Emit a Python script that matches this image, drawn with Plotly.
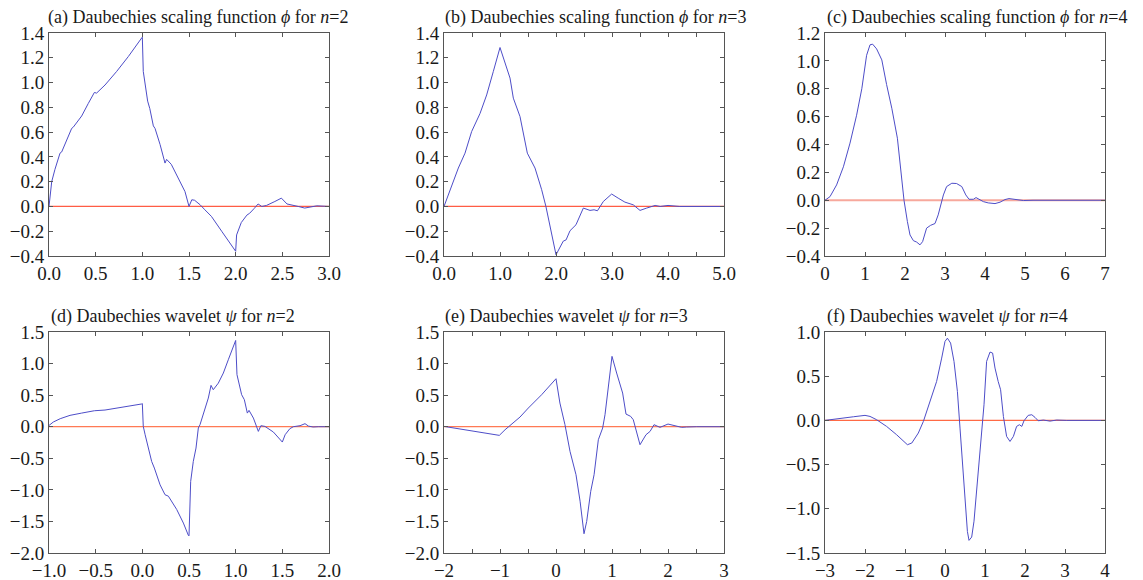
import plotly.graph_objects as go

# ---------------- data ----------------
# (a) scaling function n=2
a_x = [0, 0.029, 0.064, 0.118, 0.136, 0.19, 0.243, 0.26, 0.35, 0.42, 0.486, 0.51, 0.6, 0.725, 0.85, 0.993, 1.0,
       1.01, 1.03, 1.057, 1.08, 1.118, 1.136, 1.19, 1.243, 1.26, 1.31, 1.386, 1.457, 1.5, 1.53, 1.56, 1.62, 1.67,
       1.74, 1.85, 2.0, 2.01, 2.06, 2.12, 2.15, 2.2, 2.24, 2.28, 2.33, 2.42, 2.49, 2.55, 2.62, 2.67, 2.74, 2.81,
       2.87, 3.0]
a_y = [0, 0.20, 0.30, 0.43, 0.44, 0.54, 0.63, 0.64, 0.73, 0.83, 0.92, 0.915, 0.98, 1.09, 1.21, 1.36, 1.366,
       1.09, 0.98, 0.85, 0.79, 0.65, 0.63, 0.50, 0.35, 0.38, 0.34, 0.23, 0.12, 0.0, 0.054, 0.05, 0.013, -0.027,
       -0.08, -0.20, -0.362, -0.23, -0.13, -0.07, -0.055, -0.015, 0.02, 0.0, 0.008, 0.04, 0.067, 0.02, 0.005, 0.0,
       -0.013, 0.0, 0.005, 0.0]

# (b) scaling function n=3
b_x = [0, 0.167, 0.256, 0.375, 0.494, 0.643, 0.762, 0.881, 1.0, 1.179, 1.238, 1.357, 1.488, 1.625, 1.744, 1.82,
       2.0, 2.13, 2.18, 2.25, 2.357, 2.488, 2.607, 2.68, 2.74, 2.845, 2.994, 3.11, 3.23, 3.38, 3.5, 3.62, 3.77,
       3.86, 4.0, 4.21, 5.0]
b_y = [0, 0.196, 0.31, 0.43, 0.605, 0.75, 0.90, 1.09, 1.283, 1.036, 0.874, 0.726, 0.43, 0.31, 0.135, 0.0,
       -0.39, -0.28, -0.27, -0.196, -0.148, -0.013, -0.032, -0.027, -0.035, 0.04, 0.10, 0.067, 0.035, 0.013,
       -0.032, -0.013, 0.008, 0.0, 0.008, 0.0, 0.0]

# (c) scaling function n=4
c_x = [0, 0.125, 0.29, 0.46, 0.625, 0.79, 0.92, 1.04, 1.125, 1.19, 1.29, 1.42, 1.54, 1.67, 1.81, 1.89, 1.975,
       2.06, 2.125, 2.21, 2.29, 2.375, 2.44, 2.54, 2.64, 2.75, 2.83, 2.96, 3.04, 3.17, 3.29, 3.42, 3.52, 3.6,
       3.71, 3.775, 3.86, 3.96, 4.08, 4.25, 4.375, 4.5, 4.6, 4.75, 4.96, 5.2, 7.0]
c_y = [0, 0.026, 0.11, 0.24, 0.41, 0.61, 0.80, 1.04, 1.115, 1.12, 1.086, 1.007, 0.83, 0.66, 0.445, 0.23, 0.0,
       -0.153, -0.249, -0.29, -0.30, -0.32, -0.297, -0.2, -0.18, -0.167, -0.105, 0.038, 0.098, 0.122, 0.12,
       0.098, 0.038, 0.007, 0.007, 0.019, 0.007, -0.01, -0.019, -0.024, -0.014, 0.005, 0.012, 0.005, -0.002,
       0.0, 0.0]

# (d) wavelet n=2
d_x = [-1, -0.954, -0.88, -0.775, -0.65, -0.514, -0.4, -0.257, -0.114, -0.007, 0.0, 0.01, 0.03, 0.057, 0.1,
       0.129, 0.19, 0.243, 0.279, 0.368, 0.44, 0.493, 0.5, 0.518, 0.546, 0.575, 0.6, 0.618, 0.654, 0.707, 0.736,
       0.76, 0.814, 0.868, 0.921, 0.993, 1.0, 1.014, 1.064, 1.093, 1.125, 1.143, 1.19, 1.243, 1.27, 1.314, 1.404,
       1.5, 1.53, 1.58, 1.618, 1.69, 1.743, 1.78, 1.83, 1.886, 2.0]
d_y = [0.02, 0.074, 0.127, 0.18, 0.216, 0.253, 0.264, 0.296, 0.338, 0.36, 0.366, 0.005, -0.127, -0.31, -0.55,
       -0.655, -0.92, -1.077, -1.10, -1.31, -1.526, -1.72, -1.73, -0.866, -0.55, -0.338, -0.02, 0.032, 0.19,
       0.454, 0.655, 0.586, 0.69, 0.85, 1.06, 1.362, 1.366, 0.824, 0.507, 0.428, 0.216, 0.259, 0.137, -0.074,
       0.016, 0.005, -0.084, -0.243, -0.127, -0.032, 0.0, 0.016, 0.048, 0.01, -0.005, 0.0, 0.0]

# (e) wavelet n=3
e_x = [-2, -1.714, -1.357, -1.012, -0.91, -0.82, -0.643, -0.494, -0.256, 0.0, 0.07, 0.16, 0.25, 0.357, 0.43,
       0.5, 0.548, 0.62, 0.68, 0.756, 0.833, 0.875, 0.935, 1.0, 1.083, 1.143, 1.19, 1.25, 1.333, 1.38, 1.5,
       1.607, 1.68, 1.75, 1.857, 2.0, 2.125, 2.244, 2.33, 2.51, 3.0]
e_y = [0.005, -0.037, -0.09, -0.137, -0.048, 0.021, 0.153, 0.296, 0.507, 0.76, 0.375, 0.032, -0.39, -0.76,
       -1.18, -1.695, -1.5, -1.024, -0.76, -0.206, -0.021, 0.19, 0.665, 1.114, 0.85, 0.665, 0.533, 0.2, 0.164,
       0.111, -0.285, -0.127, -0.074, 0.032, -0.01, 0.042, 0.016, -0.01, -0.005, 0.0, 0.0]

# (f) wavelet n=4
f_x = [-3, -2.625, -2.29, -2.0, -1.875, -1.71, -1.46, -1.21, -1.04, -0.94, -0.83, -0.667, -0.54, -0.375, -0.21,
       -0.083, 0.0, 0.06, 0.14, 0.225, 0.31, 0.375, 0.44, 0.51, 0.56, 0.6, 0.667, 0.725, 0.81, 0.89, 0.975, 1.04,
       1.125, 1.19, 1.25, 1.33, 1.39, 1.46, 1.54, 1.625, 1.71, 1.79, 1.86, 1.92, 1.975, 2.08, 2.17, 2.25, 2.33,
       2.46, 2.625, 2.79, 3.04, 4.0]
f_y = [0, 0.026, 0.041, 0.057, 0.045, 0.008, -0.068, -0.162, -0.238, -0.275, -0.256, -0.143, -0.011, 0.215,
       0.44, 0.705, 0.894, 0.93, 0.875, 0.667, 0.328, -0.087, -0.54, -0.99, -1.256, -1.357, -1.32, -1.14, -0.69,
       -0.238, 0.177, 0.667, 0.773, 0.762, 0.592, 0.44, 0.347, 0.045, -0.181, -0.238, -0.181, -0.068, -0.049,
       -0.068, -0.004, 0.057, 0.064, 0.034, -0.004, 0.004, -0.008, 0.004, 0.0, 0.0]

titles = [
    "(a) Daubechies scaling function <i>ϕ</i> for <i>n</i>=2",
    "(b) Daubechies scaling function <i>ϕ</i> for <i>n</i>=3",
    "(c) Daubechies scaling function <i>ϕ</i> for <i>n</i>=4",
    "(d) Daubechies wavelet <i>ψ</i> for <i>n</i>=2",
    "(e) Daubechies wavelet <i>ψ</i> for <i>n</i>=3",
    "(f) Daubechies wavelet <i>ψ</i> for <i>n</i>=4",
]

x_ranges = [[0, 3], [0, 5], [0, 7], [-1, 2], [-2, 3], [-3, 4]]
y_ranges = [[-0.4, 1.4], [-0.4, 1.4], [-0.4, 1.2], [-2.0, 1.5], [-2.0, 1.5], [-1.5, 1.0]]

a_xticks = [0, 0.5, 1.0, 1.5, 2.0, 2.5, 3.0]
a_xlabels = ["0.0", "0.5", "1.0", "1.5", "2.0", "2.5", "3.0"]
b_xticks = [0, 0.5, 1, 1.5, 2, 2.5, 3, 3.5, 4, 4.5, 5]
b_xlabels = ["0.0", "", "1.0", "", "2.0", "", "3.0", "", "4.0", "", "5.0"]
c_xticks = [0, 1, 2, 3, 4, 5, 6, 7]
c_xlabels = ["0", "1", "2", "3", "4", "5", "6", "7"]
d_xticks = [-1.0, -0.5, 0.0, 0.5, 1.0, 1.5, 2.0]
d_xlabels = ["−1.0", "−0.5", "0.0", "0.5", "1.0", "1.5", "2.0"]
e_xticks = [-2, -1.5, -1, -0.5, 0, 0.5, 1, 1.5, 2, 2.5, 3]
e_xlabels = ["−2", "", "−1", "", "0", "", "1", "", "2", "", "3"]
f_xticks = [-3, -2, -1, 0, 1, 2, 3, 4]
f_xlabels = ["−3", "−2", "−1", "0", "1", "2", "3", "4"]

xs = [a_x, b_x, c_x, d_x, e_x, f_x]
ys = [a_y, b_y, c_y, d_y, e_y, f_y]
xticks = [a_xticks, b_xticks, c_xticks, d_xticks, e_xticks, f_xticks]
xlabels = [a_xlabels, b_xlabels, c_xlabels, d_xlabels, e_xlabels, f_xlabels]
y_dticks = [0.2, 0.2, 0.2, 0.5, 0.5, 0.5]
zero_colors = ["#ff5c45", "#ff5c45", "#f7a89c", "#ff7a55", "#ff7a55", "#ff6a45"]

# ---------------- layout geometry ----------------
W, H = 1143, 580
col_px = [(49, 329), (444, 724), (825, 1105)]
row_px = [(33, 256), (332, 553)]
title_y_px = [17, 316]
title_x_px = [46, 443, 825, 49, 443, 825]

FONT = "Liberation Serif, Times New Roman, DejaVu Serif, serif"
AX_COLOR = "#555555"

fig = go.Figure()
layout = dict(
    width=W, height=H,
    margin=dict(l=0, r=0, t=0, b=0, autoexpand=False),
    paper_bgcolor="white", plot_bgcolor="white",
    showlegend=False,
    font=dict(family=FONT, size=18, color="#1a1a1a"),
    annotations=[],
)

for i in range(6):
    r, c = divmod(i, 3)
    xa = "x" if i == 0 else f"x{i + 1}"
    ya = "y" if i == 0 else f"y{i + 1}"
    x0, x1 = col_px[c]
    ytop, ybot = row_px[r]
    xr = x_ranges[i]
    fig.add_trace(go.Scatter(x=xr, y=[0, 0], mode="lines",
                             line=dict(color=zero_colors[i], width=1.3 if i != 2 else 2),
                             xaxis=xa, yaxis=ya, hoverinfo="skip"))
    fig.add_trace(go.Scatter(x=xs[i], y=ys[i], mode="lines",
                             line=dict(color="#4d4dc8", width=1),
                             xaxis=xa, yaxis=ya))
    axis_common = dict(showline=True, linecolor=AX_COLOR, linewidth=1, mirror="ticks",
                       ticks="inside", ticklen=4, tickcolor=AX_COLOR, showgrid=False,
                       zeroline=False, automargin=False,
                       tickfont=dict(family=FONT, size=19, color="#1a1a1a"))
    layout["xaxis" if i == 0 else f"xaxis{i + 1}"] = dict(
        domain=[x0 / W, x1 / W], range=xr, anchor=ya,
        tickmode="array", tickvals=xticks[i], ticktext=xlabels[i], **axis_common)
    layout["yaxis" if i == 0 else f"yaxis{i + 1}"] = dict(
        domain=[1 - ybot / H, 1 - ytop / H], range=y_ranges[i], anchor=xa,
        tick0=0, dtick=y_dticks[i], tickformat=".1f", **axis_common)
    layout["annotations"].append(dict(
        text=titles[i], xref="paper", yref="paper",
        x=title_x_px[i] / W, y=1 - title_y_px[r] / H,
        xanchor="left", yanchor="middle", showarrow=False,
        font=dict(family=FONT, size=18, color="#1a1a1a")))

fig.update_layout(**layout)
fig.write_html("out.html")
